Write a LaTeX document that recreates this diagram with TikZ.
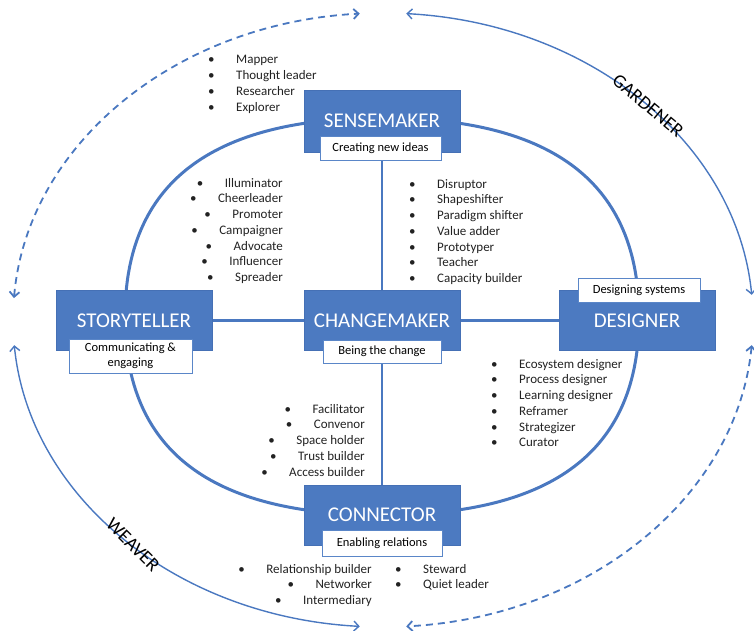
\documentclass[tikz,border=0pt]{standalone}
\usepackage{fontspec}
\setmainfont{Carlito}
\usetikzlibrary{arrows.meta,backgrounds}
\definecolor{boxblue}{HTML}{4C7AC1}
\definecolor{boxedge}{HTML}{4570B5}
\definecolor{lineblue}{HTML}{4A78C0}
\definecolor{subedge}{HTML}{5A86C8}
\definecolor{txt}{HTML}{222222}
\newcommand{\bl}{\makebox[28pt][l]{\textbullet}}
\tikzset{
  role/.style={draw=boxedge, line width=0.8pt, fill=boxblue, text=white, minimum width=156pt,
    minimum height=60pt, inner sep=0pt, font=\fontsize{21}{24}\selectfont},
  subbox/.style={draw=subedge, line width=0.9pt, fill=white, text=black, inner sep=0pt,
    font=\fontsize{12.5}{15}\selectfont},
  litem/.style={inner sep=0pt, text=txt, font=\fontsize{13}{15.75}\selectfont},
  ring/.style={draw=lineblue, line width=3pt},
  crossline/.style={draw=lineblue, line width=2.5pt},
  outersolid/.style={draw=lineblue, line width=1.4pt, {Straight Barb[length=5pt,width=10pt]}-{Straight Barb[length=5pt,width=10pt]}},
  outerdash/.style={draw=lineblue, line width=1.8pt, dash pattern=on 7pt off 5pt, {Straight Barb[length=5pt,width=10pt]}-{Straight Barb[length=5pt,width=10pt]}},
  arclabel/.style={inner sep=0pt, text=black, font=\fontsize{19}{22}\selectfont},
}
\begin{document}
\begin{tikzpicture}[x=1pt,y=-1pt]
\useasboundingbox (0,0) rectangle (754,631);

% role boxes
\node[role, minimum height=62pt] (sense) at (382,121) {SENSEMAKER};
\node[role] (change) at (382,320.5) {CHANGEMAKER};
\node[role] (story) at (134,320.5) {STORYTELLER};
\node[role] (design) at (637,320.5) {DESIGNER};
\node[role] (conn) at (382,515) {CONNECTOR};

% sub boxes
\node[subbox, minimum width=121pt, minimum height=24pt] (senseSub) at (380.5,148) {Creating new ideas};
\node[subbox, minimum width=118pt, minimum height=23pt] (changeSub) at (382,351.5) {Being the change};
\node[subbox, minimum width=123pt, minimum height=34pt, align=center] (storySub) at (130.5,356) {Communicating \&\\engaging};
\node[subbox, minimum width=122pt, minimum height=24pt] (designSub) at (639,290) {Designing systems};
\node[subbox, minimum width=120pt, minimum height=26pt] (connSub) at (382,543) {Enabling relations};

% arc labels
\node[arclabel, rotate=-40] (gardener) at (648,106) {GARDENER};
\node[arclabel, rotate=-45] (weaver) at (133,545) {WEAVER};

% lists
\foreach \t [count=\i] in {Mapper, Thought leader, Researcher, Explorer}
  \node[litem, anchor=base west] (la\i) at (208, {64+(\i-1)*15.75}) {\bl\t};
\foreach \t [count=\i] in {Illuminator, Cheerleader, Promoter, Campaigner, Advocate, Influencer, Spreader}
  \node[litem, anchor=base east] (lb\i) at (283, {187+(\i-1)*15.75}) {\bl\t};
\foreach \t [count=\i] in {Disruptor, Shapeshifter, Paradigm shifter, Value adder, Prototyper, Teacher, Capacity builder}
  \node[litem, anchor=base west] (lc\i) at (409, {188+(\i-1)*15.75}) {\bl\t};
\foreach \t [count=\i] in {Ecosystem designer, Process designer, Learning designer, Reframer, Strategizer, Curator}
  \node[litem, anchor=base west] (ld\i) at (491, {368+(\i-1)*15.75}) {\bl\t};
\foreach \t [count=\i] in {Facilitator, Convenor, Space holder, Trust builder, Access builder}
  \node[litem, anchor=base east] (le\i) at (365, {413+(\i-1)*15.75}) {\bl\t};
\foreach \t [count=\i] in {Relationship builder, Networker, Intermediary}
  \node[litem, anchor=base east] (lf\i) at (372, {573+(\i-1)*15.75}) {\bl\t};
\foreach \t [count=\i] in {Steward, Quiet leader}
  \node[litem, anchor=base west] (lg\i) at (395, {573+(\i-1)*15.75}) {\bl\t};

\begin{scope}[on background layer]
  % outer arcs
  \draw[outerdash] ([shift={(383,320)}]184.1:370 and 307) arc[start angle=184.1, end angle=266.4, x radius=370, y radius=307];
  \draw[outersolid] ([shift={(383,320)}]273.6:370 and 307) arc[start angle=273.6, end angle=355.3, x radius=370, y radius=307];
  \draw[outerdash] ([shift={(383,320)}]4.7:370 and 307) arc[start angle=4.7, end angle=86.4, x radius=370, y radius=307];
  \draw[outersolid] ([shift={(383,320)}]93.6:370 and 307) arc[start angle=93.6, end angle=175.3, x radius=370, y radius=307];
  % inner ring
  \draw[ring] (382,118) .. controls (209.8,118) and (125,184) .. (125,317)
    .. controls (125,450) and (209.8,515) .. (382,515)
    .. controls (554.2,515) and (639,450) .. (639,317)
    .. controls (639,184) and (554.2,118) .. cycle;
  % cross
  \draw[crossline] (sense) -- (change);
  \draw[crossline] (change) -- (conn);
  \draw[crossline] (story) -- (change);
  \draw[crossline] (change) -- (design);
\end{scope}
\end{tikzpicture}
\end{document}
